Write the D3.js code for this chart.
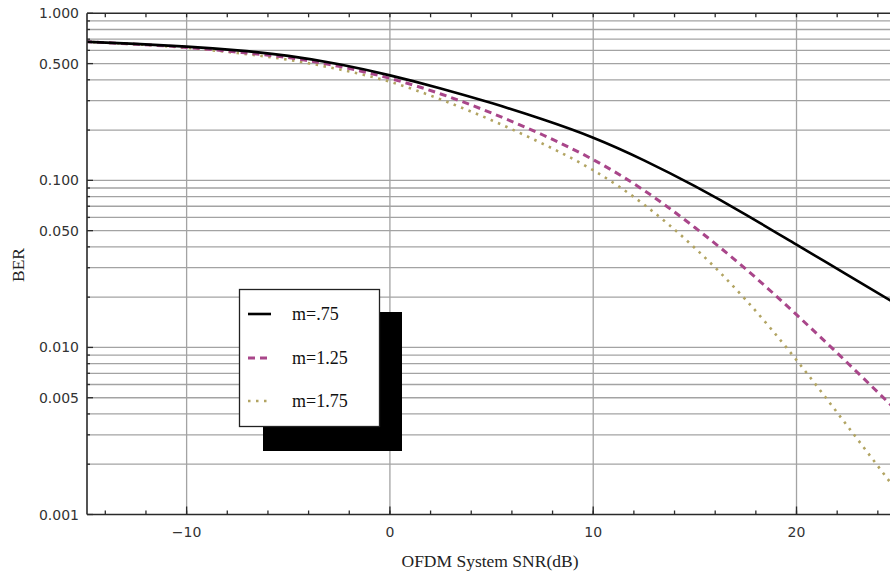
<!DOCTYPE html>
<html><head><meta charset="utf-8">
<script src="https://cdn.jsdelivr.net/npm/d3@7"></script>
<style>body{margin:0;background:#fff}svg{display:block}</style>
</head><body>
<svg id="c" width="890" height="578"></svg>
<script>
const snr = [-15,-12.5,-10,-7.5,-5,-2.5,0,2.5,5,7.5,10,12.5,15,17.5,20,22.5,25];
const berM075 = [0.676,0.656,0.632,0.600,0.556,0.495,0.425,0.355,0.290,0.232,0.180,0.1318,0.0923,0.0624,0.0412,0.0272,0.0179];
const berM125 = [0.676,0.653,0.625,0.586,0.543,0.481,0.408,0.329,0.253,0.1875,0.133,0.0871,0.0522,0.0295,0.0157,0.0081,0.0041];
const berM175 = [0.676,0.652,0.621,0.578,0.527,0.462,0.389,0.305,0.229,0.166,0.115,0.0716,0.0394,0.0193,0.0084,0.00339,0.00135];
const seriesNames = ["m=.75","m=1.25","m=1.75"];
const xGrid = [-10,0,10,20];
const xTickLabels = ["\u221210","0","10","20"];
const yTickValues = [1,0.5,0.1,0.05,0.01,0.005,0.001];
const yTickLabels = ["1.000","0.500","0.100","0.050","0.010","0.005","0.001"];

const svg = d3.select("#c");
const L = 87, T = 13.3, B = 514.5;
const x = d3.scaleLinear().domain([-14.9, 25]).range([L, L + 39.9*20.33]);
const y = d3.scaleLog().domain([0.001, 1]).range([B, T]);
const R = 890;

// gridlines
const yGrid = [];
for (let e = -3; e < 0; e++) for (let k = 1; k <= 9; k++) yGrid.push(k*Math.pow(10,e));
yGrid.push(1);
const grid = svg.append("g").attr("stroke","#a3a3a3").attr("stroke-width",1.3);
grid.selectAll("line.h").data(yGrid.filter(v=>v>0.001 && v<1)).join("line")
  .attr("x1",L).attr("x2",R).attr("y1",d=>y(d)).attr("y2",d=>y(d));
grid.selectAll("line.v").data(xGrid).join("line")
  .attr("y1",T).attr("y2",B).attr("x1",d=>x(d)).attr("x2",d=>x(d));

// clip
svg.append("clipPath").attr("id","clip").append("rect").attr("x",L).attr("y",T).attr("width",R-L).attr("height",B-T);

const line = d3.line().curve(d3.curveNatural).x(d=>x(d[0])).y(d=>y(d[1]));
const styles = [
  {data:berM075, color:"#000000", w:2.6, dash:null},
  {data:berM125, color:"#a9468a", w:3, dash:"7,5"},
  {data:berM175, color:"#b2a462", w:2.6, dash:"2.5,5.5"}
];
const cg = svg.append("g").attr("clip-path","url(#clip)");
styles.slice().reverse().forEach(s=>{
  cg.append("path").datum(snr.map((v,i)=>[v,s.data[i]]))
    .attr("d",line).attr("fill","none").attr("stroke",s.color)
    .attr("stroke-width",s.w).attr("stroke-dasharray",s.dash);
});

// frame
const fr = svg.append("g").attr("stroke","#2a2a2a").attr("stroke-width",1.6);
fr.append("line").attr("x1",L).attr("x2",L).attr("y1",T).attr("y2",B);
fr.append("line").attr("x1",L).attr("x2",R).attr("y1",T).attr("y2",T);
fr.append("line").attr("x1",L).attr("x2",R).attr("y1",B).attr("y2",B);

// ticks
const xMinor = d3.range(-14, 26, 2);
const tk = svg.append("g").attr("stroke","#2a2a2a").attr("stroke-width",1.3);
tk.selectAll("line.xb").data(xMinor).join("line")
  .attr("x1",d=>x(d)).attr("x2",d=>x(d)).attr("y1",B).attr("y2",B-4);
tk.selectAll("line.xt").data(xMinor).join("line")
  .attr("x1",d=>x(d)).attr("x2",d=>x(d)).attr("y1",T).attr("y2",T+4);
tk.selectAll("line.xm").data(xGrid).join("line")
  .attr("x1",d=>x(d)).attr("x2",d=>x(d)).attr("y1",B).attr("y2",B-8);
tk.selectAll("line.ym").data(yGrid).join("line")
  .attr("x1",L).attr("x2",d=>yTickValues.some(v=>Math.abs(v-d)<1e-9)?L+6:L+3)
  .attr("y1",d=>y(d)).attr("y2",d=>y(d));

// labels
const lab = svg.append("g").attr("font-family","DejaVu Sans, sans-serif").attr("font-size",14).attr("fill","#333");
lab.selectAll("text.xl").data(xGrid).join("text")
  .attr("x",d=>x(d)).attr("y",B+22).attr("text-anchor","middle").text((d,i)=>xTickLabels[i]);
lab.selectAll("text.yl").data(yTickValues).join("text")
  .attr("x",L-8).attr("y",d=>y(d)).attr("dy","0.36em").attr("text-anchor","end").text((d,i)=>yTickLabels[i]);

svg.append("text").attr("x",490).attr("y",567).attr("text-anchor","middle")
  .attr("font-family","Liberation Serif, serif").attr("font-size",17.5).attr("fill","#222")
  .text("OFDM System SNR(dB)");
svg.append("text").attr("transform","translate(24,265) rotate(-90)").attr("text-anchor","middle")
  .attr("font-family","Liberation Serif, serif").attr("font-size",17.5).attr("fill","#222")
  .text("BER");

// legend
const lg = svg.append("g");
lg.append("rect").attr("x",263).attr("y",312).attr("width",139).attr("height",139).attr("fill","#000");
lg.append("rect").attr("x",239.5).attr("y",289.5).attr("width",140).attr("height",137).attr("fill","#fff").attr("stroke","#222").attr("stroke-width",1.3);
const ly = [314, 358, 401];
styles.forEach((s,i)=>{
  lg.append("line").attr("x1",248).attr("x2",271).attr("y1",ly[i]).attr("y2",ly[i])
    .attr("stroke",s.color).attr("stroke-width",s.w).attr("stroke-dasharray",s.dash);
  lg.append("text").attr("x",292).attr("y",ly[i]).attr("dy","0.33em")
    .attr("font-family","Liberation Serif, serif").attr("font-size",18).attr("fill","#111")
    .text(seriesNames[i]);
});
</script>
</body></html>
